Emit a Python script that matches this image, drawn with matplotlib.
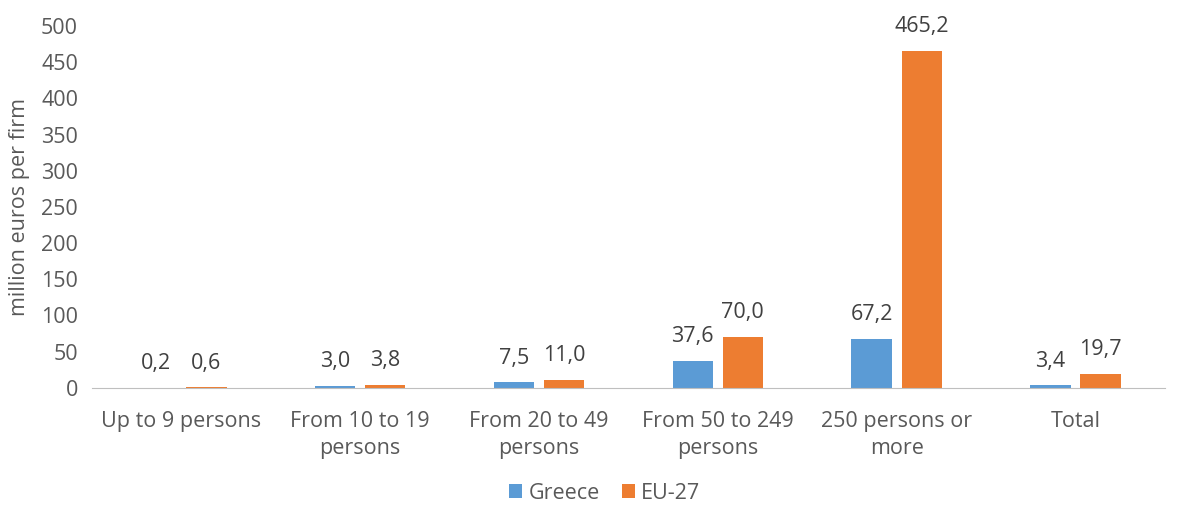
import matplotlib.pyplot as plt
import numpy as np

plt.rcParams['font.family'] = ['Open Sans', 'DejaVu Sans']

categories = ["Up to 9 persons", "From 10 to 19\npersons", "From 20 to 49\npersons",
              "From 50 to 249\npersons", "250 persons or\nmore", "Total"]
greece = [0.2, 3.0, 7.5, 37.6, 67.2, 3.4]
eu27 = [0.6, 3.8, 11.0, 70.0, 465.2, 19.7]
series_names = ["Greece", "EU-27"]

blue = "#5B9BD5"
orange = "#ED7D31"
text_col = "#595959"
label_col = "#404040"
fs = 15.5

fig = plt.figure(figsize=(11.79, 5.09), dpi=100)
ax = fig.add_axes([0.078, 0.238, 0.91, 0.711])

x = np.arange(len(categories))
w = 0.225
off = 0.14
b1 = ax.bar(x - off, greece, w, color=blue, label=series_names[0])
b2 = ax.bar(x + off, eu27, w, color=orange, label=series_names[1])

# value labels above the bars, decimal comma
for bars, vals in ((b1, greece), (b2, eu27)):
    for bar, v in zip(bars, vals):
        ax.annotate(f"{v:.1f}".replace(".", ","),
                    (bar.get_x() + bar.get_width() / 2, bar.get_height()),
                    xytext=(0, 10), textcoords="offset points",
                    ha="center", va="bottom", fontsize=fs, color=label_col)

ax.set_ylim(0, 500)
ax.set_yticks(range(0, 501, 50))
ax.set_xlim(-0.5, len(categories) - 0.5)
ax.set_xticks(x)
ax.set_xticklabels(categories, linespacing=1.35)
ax.tick_params(axis="both", length=0, labelsize=fs, colors=text_col)
ax.tick_params(axis="x", pad=17)
ax.tick_params(axis="y", pad=10)
for s in ("top", "right", "left"):
    ax.spines[s].set_visible(False)
ax.spines["bottom"].set_color("#BFBFBF")
ax.set_ylabel("million euros per firm", fontsize=fs, color=text_col, labelpad=8)

fig.legend(loc="lower center", bbox_to_anchor=(0.513, -0.028), ncol=2, frameon=False,
           fontsize=fs, labelcolor=text_col, handlelength=0.6, handleheight=0.6,
           handletextpad=0.3, columnspacing=1.0)

fig.savefig("out.png", dpi=100)
